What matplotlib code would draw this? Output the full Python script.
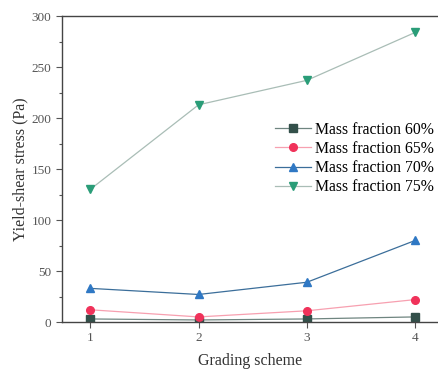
import matplotlib
matplotlib.use('Agg')
import matplotlib.pyplot as plt
from matplotlib.ticker import MultipleLocator

plt.rcParams['font.family'] = ['Liberation Serif', 'DejaVu Serif']

schemes = [1, 2, 3, 4]
labels = ['Mass fraction 60%', 'Mass fraction 65%', 'Mass fraction 70%', 'Mass fraction 75%']
stress_60 = [3, 2, 3, 5]
stress_65 = [12, 5, 11, 22]
stress_70 = [33, 27, 39, 80]
stress_75 = [130, 213, 237, 284]

series = [stress_60, stress_65, stress_70, stress_75]
markers = ['s', 'o', '^', 'v']
mcolors = ['#33504a', '#f0325a', '#2f78c4', '#2a9d78']
lcolors = ['#6f8580', '#f7a0b0', '#3b6e9a', '#a9bdb6']

fig = plt.figure(figsize=(4.38, 3.74), dpi=100)
ax = fig.add_axes([0.1416, 0.139, 0.8584, 0.818])

for vals, lab, m, mc, lc in zip(series, labels, markers, mcolors, lcolors):
    ax.plot(schemes, vals, color=lc, lw=0.9, marker=m, markersize=5.5,
            markerfacecolor=mc, markeredgecolor=mc, label=lab)

ax.set_xlim(0.74, 4.21)
ax.set_ylim(0, 300)
ax.set_xticks(schemes)
ax.yaxis.set_major_locator(MultipleLocator(50))
ax.yaxis.set_minor_locator(MultipleLocator(25))
ax.tick_params(axis='both', direction='out', labelsize=9.5, colors='#555555', width=0.8, length=4)
ax.tick_params(axis='y', which='minor', direction='out', length=2, width=0.8, color='#555555')
ax.spines['right'].set_visible(False)
for s in ['left', 'bottom', 'top']:
    ax.spines[s].set_color('#444444')
    ax.spines[s].set_linewidth(1.0)

ax.set_xlabel('Grading scheme', fontsize=11.5, color='#333333', labelpad=6)
ax.set_ylabel('Yield-shear stress (Pa)', fontsize=11.5, color='#333333', labelpad=2)

ax.legend(loc='upper left', bbox_to_anchor=(0.55, 0.675), frameon=False, fontsize=11.3,
          handlelength=2.3, handletextpad=0.25, labelspacing=0.2, borderaxespad=0)

fig.savefig('out.png', dpi=100)
